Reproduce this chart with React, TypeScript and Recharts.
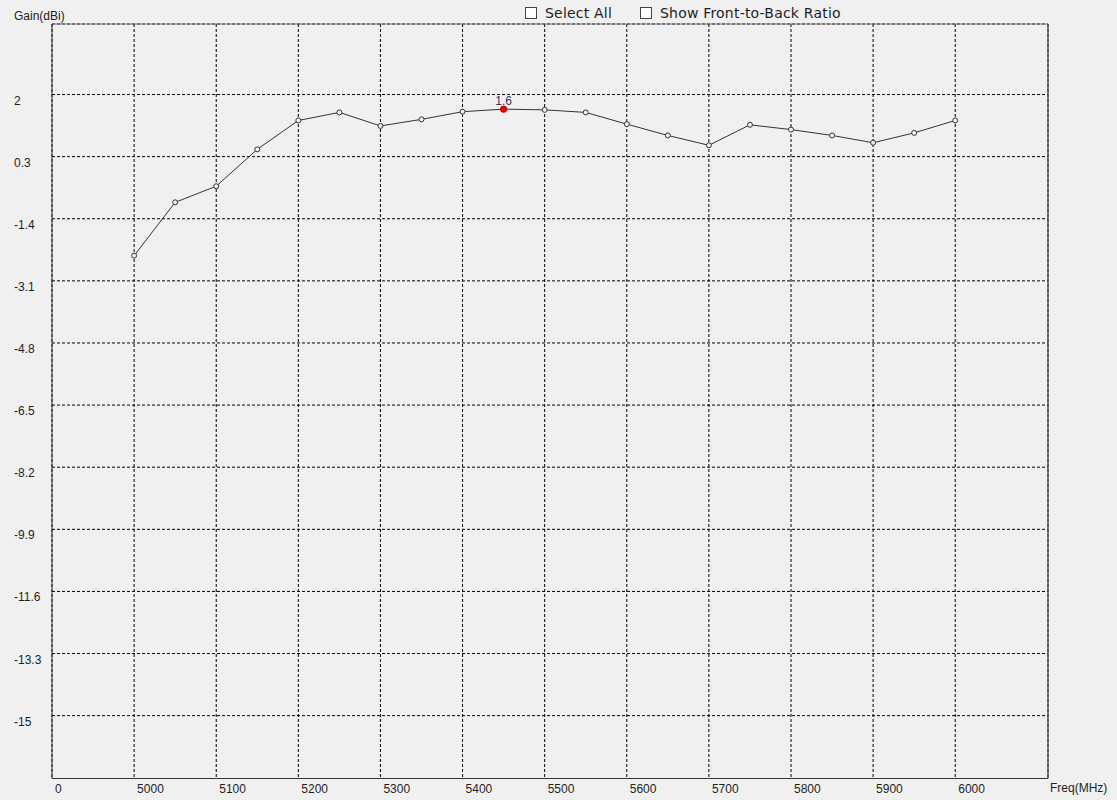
import React from 'react';
import {
  LineChart,
  Line,
  XAxis,
  YAxis,
  CartesianGrid,
  ReferenceLine,
  ReferenceDot,
} from 'recharts';

// Antenna gain sweep, one point every 50 MHz
const freqs = [
  5000, 5050, 5100, 5150, 5200, 5250, 5300, 5350, 5400, 5450, 5500,
  5550, 5600, 5650, 5700, 5750, 5800, 5850, 5900, 5950, 6000,
];
const gains = [
  -2.41, -0.95, -0.51, 0.5, 1.29, 1.51, 1.14, 1.32, 1.53, 1.6, 1.58,
  1.51, 1.19, 0.88, 0.61, 1.17, 1.04, 0.88, 0.68, 0.95, 1.29,
];

const xTicks = [4900, 5000, 5100, 5200, 5300, 5400, 5500, 5600, 5700, 5800, 5900, 6000];
const xTickLabels = ['0', '5000', '5100', '5200', '5300', '5400', '5500', '5600', '5700', '5800', '5900', '6000'];
const xDomain = [4900, 6113];

const yTicks = [2, 0.3, -1.4, -3.1, -4.8, -6.5, -8.2, -9.9, -11.6, -13.3, -15];
const yTickLabels = ['2', '0.3', '-1.4', '-3.1', '-4.8', '-6.5', '-8.2', '-9.9', '-11.6', '-13.3', '-15'];
const yDomain = [-16.72, 3.93];

const FONT = '"Liberation Sans", Arial, sans-serif';
const TEXT = '#1e1e1e';

function XTick({ x, payload }: { x?: number; payload?: { value: number } }) {
  const i = xTicks.indexOf(payload?.value ?? -1);
  return (
    <text x={(x ?? 0) + 3} y={789} fontSize={12} fontFamily={FONT} fill={TEXT} dominantBaseline="central">
      {xTickLabels[i]}
    </text>
  );
}

function YTick({ y, payload }: { y?: number; payload?: { value: number } }) {
  const i = yTicks.indexOf(payload?.value ?? NaN);
  return (
    <text x={14} y={(y ?? 0) + 6} fontSize={12} fontFamily={FONT} fill={TEXT} dominantBaseline="central">
      {yTickLabels[i]}
    </text>
  );
}

function PeakLabel({ viewBox, value }: { viewBox?: { x: number; y: number; width: number; height: number }; value?: string }) {
  if (!viewBox) return null;
  const cx = viewBox.x + viewBox.width / 2;
  const cy = viewBox.y + viewBox.height / 2;
  return (
    <text x={cx} y={cy - 8.5} textAnchor="middle" dominantBaseline="central" fontSize={12} fontFamily={FONT} fill="#2f3b4f">
      {value}
    </text>
  );
}

function Checkbox({ left, label }: { left: number; label: string }) {
  return (
    <div style={{ position: 'absolute', left, top: 5, display: 'flex', alignItems: 'center', height: 16 }}>
      <div style={{ width: 10, height: 10, border: '1px solid #444', background: '#fff' }} />
      <span style={{ marginLeft: 8, fontSize: 14, letterSpacing: 0.2, fontFamily: '"DejaVu Sans", sans-serif', color: TEXT }}>{label}</span>
    </div>
  );
}

export default function App() {
  const data = freqs.map((f, i) => ({ freq: f, gain: gains[i] }));
  const peakIdx = gains.indexOf(Math.max(...gains));

  return (
    <div style={{ position: 'fixed', left: 0, top: 0, width: 1117, height: 800, background: '#f0f0f0', fontFamily: FONT }}>
      <div style={{ position: 'absolute', left: 14, top: 9, fontSize: 12, color: TEXT }}>Gain(dBi)</div>
      <div style={{ position: 'absolute', left: 1050, top: 781, fontSize: 12, color: TEXT }}>Freq(MHz)</div>
      <Checkbox left={525} label="Select All" />
      <Checkbox left={640} label="Show Front-to-Back Ratio" />
      <LineChart width={1117} height={800} data={data} margin={{ top: 24, right: 69, bottom: 0, left: 0 }}>
        <CartesianGrid stroke="#000" strokeDasharray="3 2" />
        <XAxis
          dataKey="freq"
          type="number"
          domain={xDomain}
          ticks={xTicks}
          allowDataOverflow
          height={21.5}
          tickLine={false}
          axisLine={{ stroke: '#333' }}
          tick={<XTick />}
        />
        <YAxis
          type="number"
          domain={yDomain}
          ticks={yTicks}
          allowDataOverflow
          width={52}
          tickLine={false}
          axisLine={{ stroke: '#333' }}
          tick={<YTick />}
        />
        <ReferenceLine y={yDomain[1]} stroke="#777" />
        <ReferenceLine x={xDomain[1]} stroke="#555" strokeWidth={1.5} />
        <Line
          type="linear"
          dataKey="gain"
          stroke="#333"
          strokeWidth={1}
          dot={{ r: 2.5, stroke: '#333', strokeWidth: 1, fill: '#f0f0f0' }}
          isAnimationActive={false}
        />
        <ReferenceDot
          x={freqs[peakIdx]}
          y={gains[peakIdx]}
          r={3.2}
          fill="#e00000"
          stroke="#e00000"
          label={<PeakLabel value={gains[peakIdx].toFixed(1)} />}
        />
      </LineChart>
    </div>
  );
}
